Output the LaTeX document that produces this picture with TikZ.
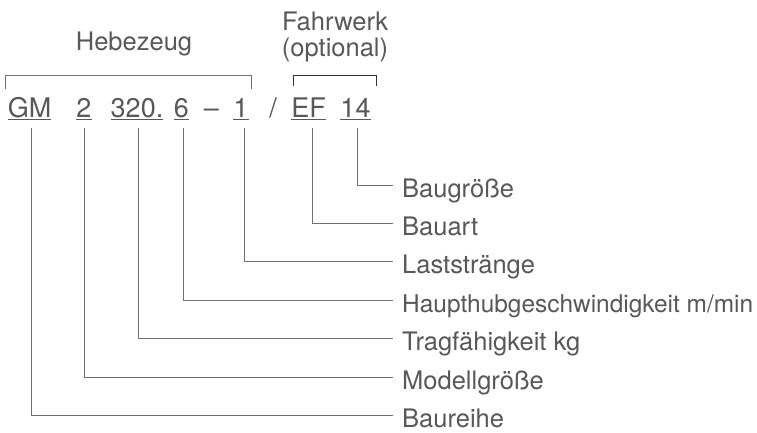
\documentclass[tikz,border=0pt]{standalone}
\usepackage{fontspec}
\setmainfont{TeX Gyre Heros}
\definecolor{txtgray}{HTML}{585858}
\definecolor{linegray}{HTML}{707070}
\begin{document}
\begin{tikzpicture}[x=1pt,y=-1pt,
  txt/.style={text=txtgray, inner sep=0pt, font=\fontsize{25.5}{30}\selectfont},
  code/.style={text=txtgray, inner sep=0pt, font=\fontsize{27}{30}\selectfont, anchor=base},
  lbl/.style={txt, anchor=west, inner xsep=9pt, text height=25.6pt, text depth=0pt},
  conn/.style={draw=linegray, line width=1pt},
  ul/.style={draw=txtgray, line width=1pt},
  brk/.style={draw=linegray, line width=1pt}]
\fill[white] (0,0) rectangle (757,432);
\useasboundingbox (0,0) rectangle (757,432);
% headings
\node[txt, anchor=base] (heb) at (134,50) {Hebezeug};
\node[txt, anchor=base] (fahr) at (335,30) {Fahrwerk};
\node[txt, anchor=base] (opt) at (335,56) {(optional)};
% brackets
\draw[brk] (5,89) -- (5,75) -- (251,75) -- (251,89);
\draw[brk, draw=black!80] (293,86) -- (293,75) -- (376,75) -- (376,86);
% code
\node[code] (gm) at (29.5,117) {GM};
\node[code] (two) at (84,117) {2};
\node[code] (tri) at (137,117) {320.};
\node[code] (six) at (181.5,117) {6};
\node[code] (dash) at (211.5,117) {–};
\node[code] (one) at (241,117) {1};
\node[code] (slash) at (273,117) {/};
\node[code] (ef) at (308.5,117) {EF};
\node[code] (ft) at (355.5,117) {14};
\foreach \n in {gm,two,tri,six,one,ef,ft}
  \draw[ul] ([yshift=-2.5pt]\n.base west) -- ([yshift=-2.5pt]\n.base east);
% tick start points
\coordinate (t14) at (357,128);
\coordinate (tef) at (312,128);
\coordinate (tone) at (244,128);
\coordinate (tsix) at (183,128);
\coordinate (ttri) at (138,128);
\coordinate (ttwo) at (84,128);
\coordinate (tgm) at (31,128);
% labels
\node[lbl] (l1) at (393,185) {Baugröße};
\node[lbl] (l2) at (393,223) {Bauart};
\node[lbl] (l3) at (393,261) {Laststränge};
\node[lbl] (l4) at (393,300) {\resizebox{351pt}{!}{Haupthubgeschwindigkeit m/min}};
\node[lbl] (l5) at (393,338) {Tragfähigkeit kg};
\node[lbl] (l6) at (393,377) {Modellgröße};
\node[lbl] (l7) at (393,415) {Baureihe};
% connectors
\draw[conn] (t14) |- (l1.west);
\draw[conn] (tef) |- (l2.west);
\draw[conn] (tone) |- (l3.west);
\draw[conn] (tsix) |- (l4.west);
\draw[conn] (ttri) |- (l5.west);
\draw[conn] (ttwo) |- (l6.west);
\draw[conn] (tgm) |- (l7.west);
\end{tikzpicture}
\end{document}
